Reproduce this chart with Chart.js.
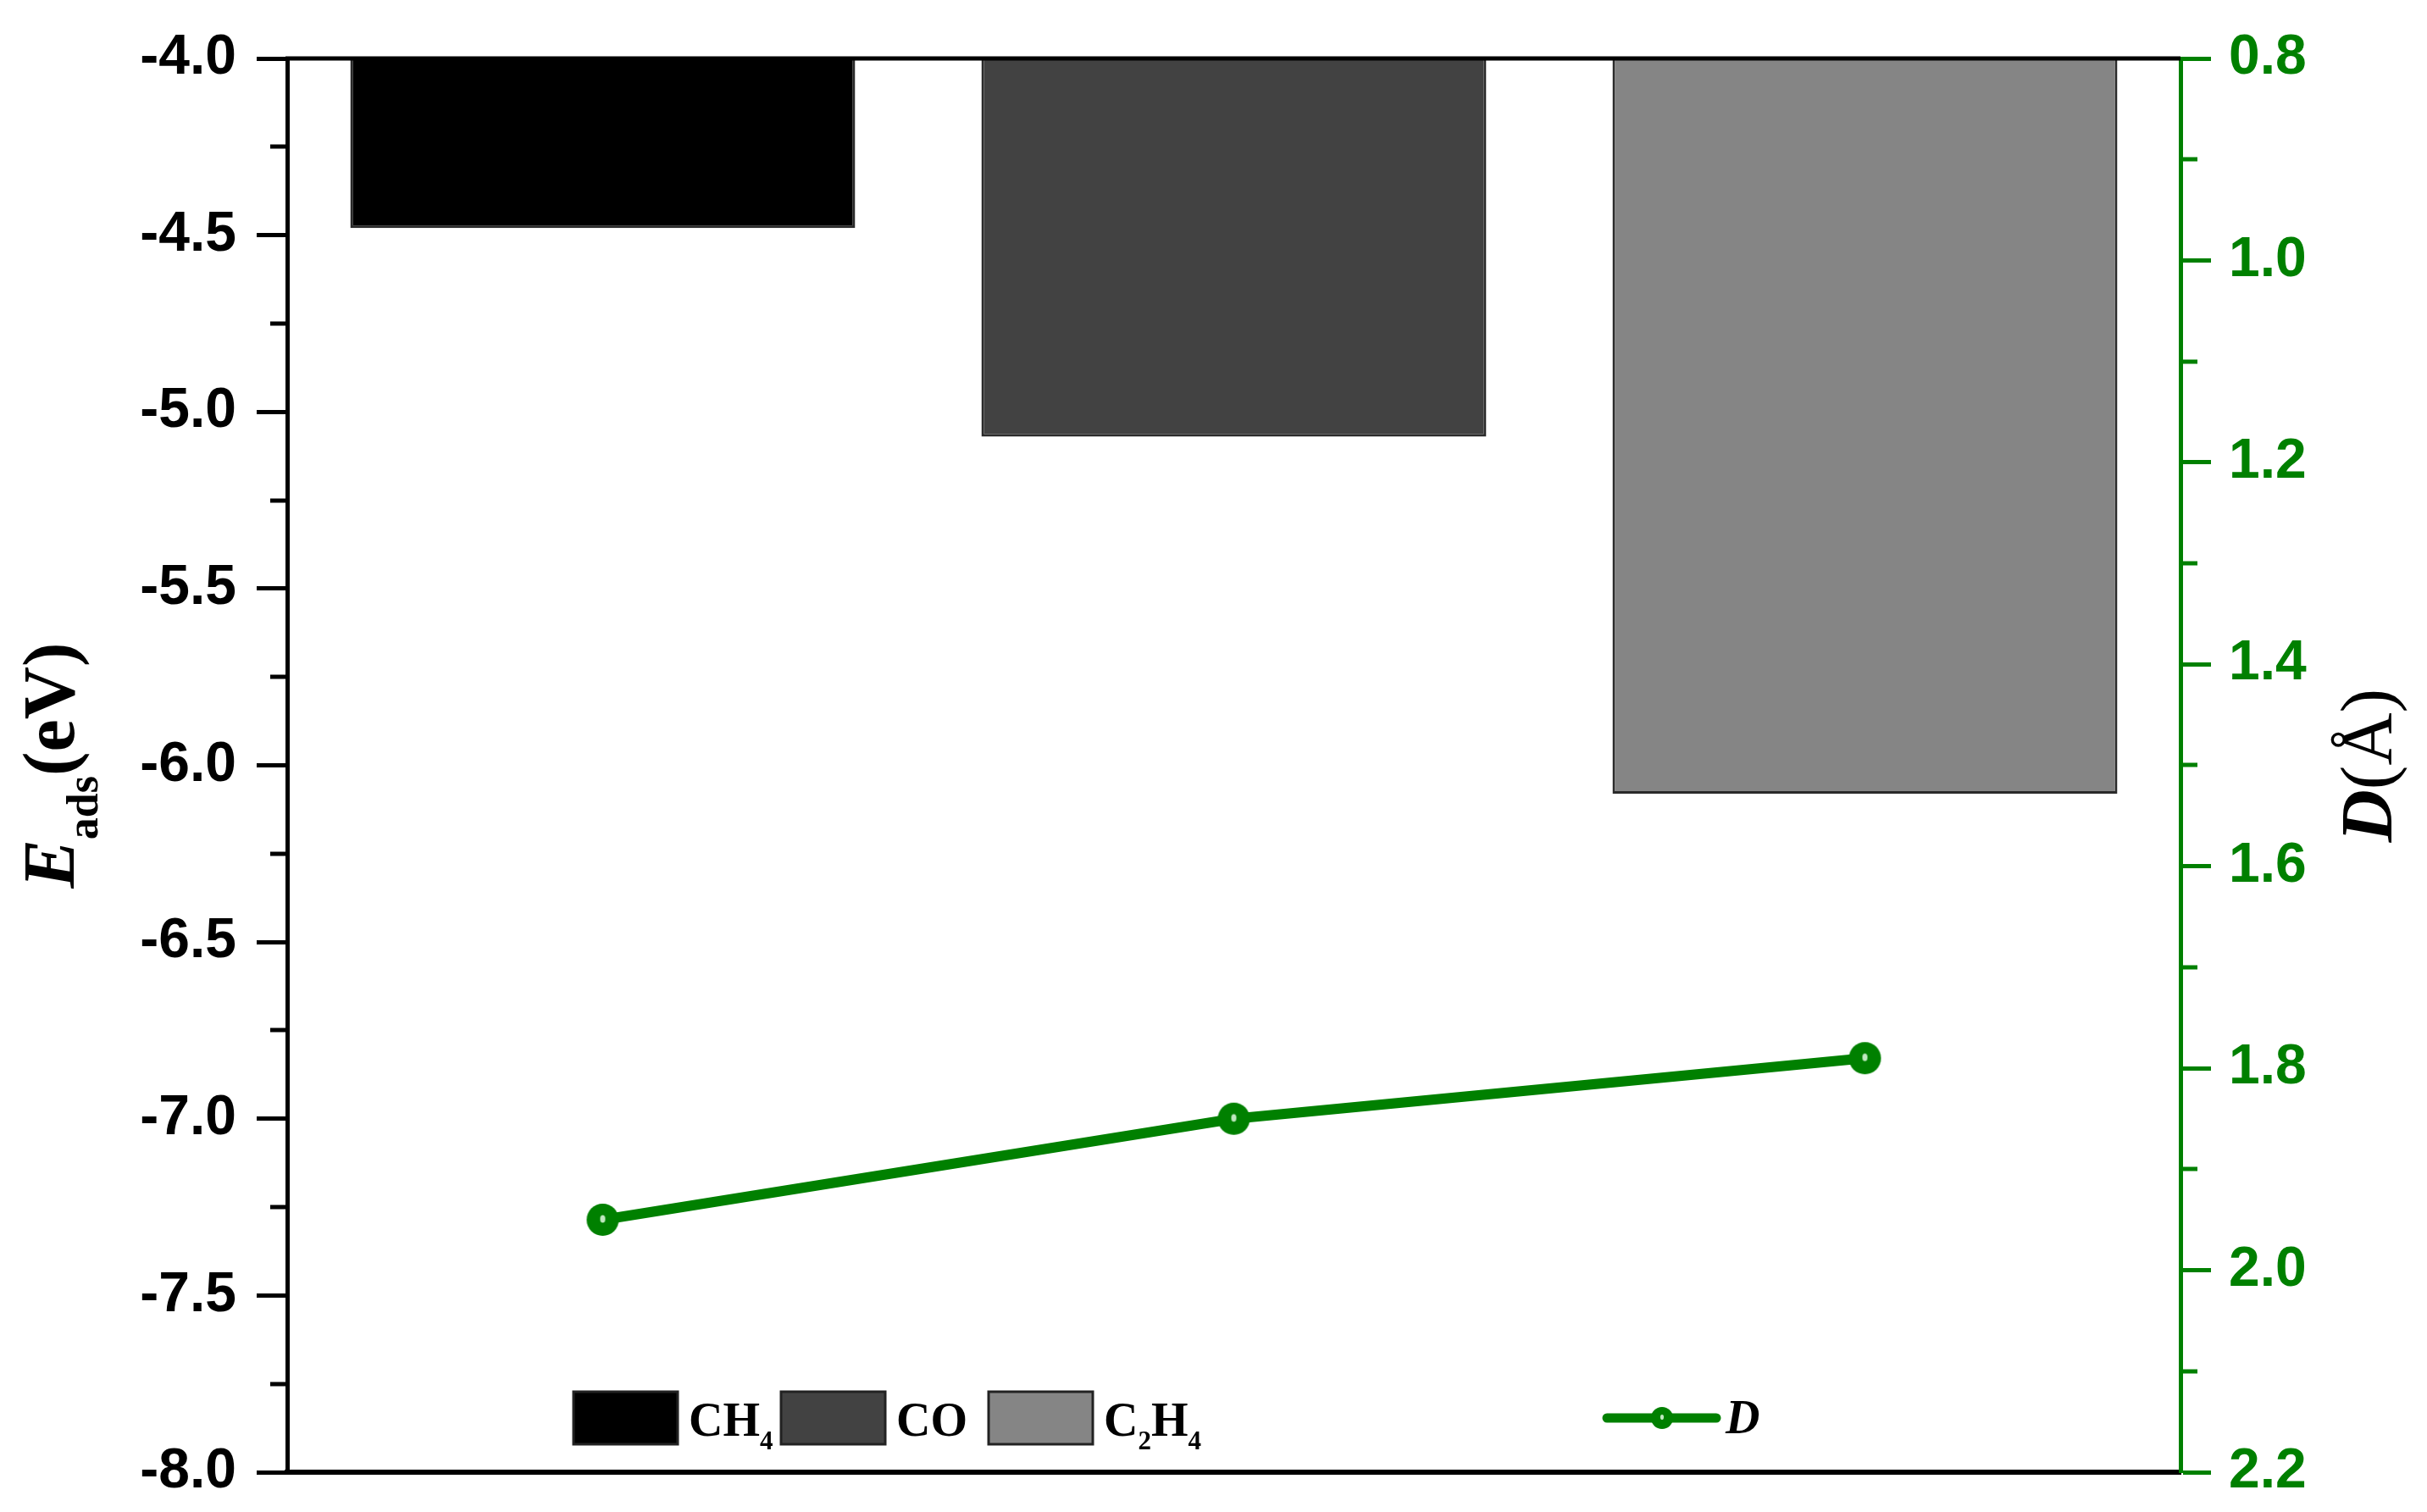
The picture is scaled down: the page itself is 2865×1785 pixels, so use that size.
<!DOCTYPE html>
<html>
<head>
<meta charset="utf-8">
<script src="https://cdn.jsdelivr.net/npm/chart.js@4.4.1/dist/chart.umd.min.js"></script>
<style>
  html, body { margin: 0; padding: 0; background: #fff; }
  #wrap { width: 2865px; height: 1785px; position: relative; }
</style>
</head>
<body>
<div id="wrap"><canvas id="chart"></canvas></div>
<script>
const categories = ['CH4', 'CO', 'C2H4'];
const adsorptionEnergy = [-4.48, -5.07, -6.08];   // E_ads (eV), left axis
const distanceD = [1.95, 1.85, 1.79];             // D (Å), right axis
const barColors = ['#000000', '#424242', '#858585'];
const energyRange = [-8, -4];
const energyStep = 0.5;
const dRange = [0.8, 2.2];
const dStep = 0.2;

const GREEN = '#008000';
const SANS = '"Liberation Sans", Arial, sans-serif';
const SERIF = '"Liberation Serif", "Times New Roman", serif';

// little sphere marker like the Origin one
function makeBall(r) {
  const c = document.createElement('canvas');
  c.width = c.height = r * 2 + 2;
  const g = c.getContext('2d');
  g.fillStyle = GREEN;
  g.beginPath(); g.arc(r + 1, r + 1, r, 0, Math.PI * 2); g.fill();
  g.fillStyle = 'rgba(225,250,225,0.85)';
  g.beginPath(); g.ellipse(r + 1, r, r * 0.16, r * 0.24, 0, 0, Math.PI * 2); g.fill();
  return c;
}
const ball = makeBall(19);
const smallBall = makeBall(13);

// draws "C2H4" with the digits lowered
function drawChem(ctx, text, x, y, size) {
  for (const ch of text) {
    if (/\d/.test(ch)) {
      ctx.font = 'bold ' + Math.round(size * 0.55) + 'px ' + SERIF;
      ctx.fillText(ch, x, y + size * 0.28);
    } else {
      ctx.font = 'bold ' + size + 'px ' + SERIF;
      ctx.fillText(ch, x, y);
    }
    x += ctx.measureText(ch).width;
  }
}

function minorTicks(ctx, scale, step, color, side) {
  const [lo, hi] = [scale.min, scale.max];
  ctx.strokeStyle = color;
  ctx.lineWidth = 5;
  for (let v = lo + step / 2; v < hi; v += step) {
    const py = Math.round(scale.getPixelForValue(v));
    const x0 = side === 'left' ? scale.right : scale.left;
    const x1 = side === 'left' ? x0 - 20 : x0 + 20;
    ctx.beginPath(); ctx.moveTo(x0, py); ctx.lineTo(x1, py); ctx.stroke();
  }
}

const decorations = {
  id: 'decorations',
  afterDraw(chart) {
    const { ctx, chartArea: a, scales } = chart;
    ctx.save();

    // top frame line
    ctx.strokeStyle = '#000';
    ctx.lineWidth = 5;
    ctx.beginPath(); ctx.moveTo(a.left - 2, a.top); ctx.lineTo(a.right, a.top); ctx.stroke();

    minorTicks(ctx, scales.y, energyStep, '#000', 'left');
    minorTicks(ctx, scales.y2, dStep, GREEN, 'right');

    const midY = (a.top + a.bottom) / 2;
    ctx.fillStyle = '#000';
    ctx.textBaseline = 'alphabetic';
    ctx.textAlign = 'left';

    // left title: E_ads(eV)
    const big = 86, sub = 52;
    ctx.font = 'italic bold ' + big + 'px ' + SERIF;
    const wE = ctx.measureText('E').width;
    ctx.font = 'bold ' + sub + 'px ' + SERIF;
    const wSub = ctx.measureText('ads').width;
    ctx.font = 'bold ' + big + 'px ' + SERIF;
    const wUnit = ctx.measureText('(eV)').width;
    let total = wE + wSub + wUnit;
    ctx.save();
    ctx.translate(87, midY + total / 2);
    ctx.rotate(-Math.PI / 2);
    ctx.font = 'italic bold ' + big + 'px ' + SERIF;
    ctx.fillText('E', 0, 0);
    ctx.font = 'bold ' + sub + 'px ' + SERIF;
    ctx.fillText('ads', wE, 28);
    ctx.font = 'bold ' + big + 'px ' + SERIF;
    ctx.fillText('(eV)', wE + wSub, 0);
    ctx.restore();

    // right title: D(Å)
    ctx.font = 'italic bold ' + big + 'px ' + SERIF;
    const wD = ctx.measureText('D').width;
    ctx.font = big + 'px ' + SERIF;
    const wA = ctx.measureText('(Å)').width;
    total = wD + wA;
    ctx.save();
    ctx.translate(2823, midY + total / 2);
    ctx.rotate(-Math.PI / 2);
    ctx.font = 'italic bold ' + big + 'px ' + SERIF;
    ctx.fillText('D', 0, 0);
    ctx.font = big + 'px ' + SERIF;
    ctx.fillText('(Å)', wD, 0);
    ctx.restore();

    // legend for the bars
    const boxW = 123, boxH = 62, legTop = 1643;
    categories.forEach((name, i) => {
      const x = 677 + i * 245;
      ctx.fillStyle = barColors[i];
      ctx.fillRect(x, legTop, boxW, boxH);
      ctx.strokeStyle = '#222';
      ctx.lineWidth = 3;
      ctx.strokeRect(x, legTop, boxW, boxH);
      ctx.fillStyle = '#000';
      drawChem(ctx, name, x + boxW + 13, legTop + 52, 56);
    });

    // legend for the line
    const ly = legTop + boxH / 2;
    ctx.strokeStyle = GREEN;
    ctx.lineWidth = 11;
    ctx.lineCap = 'round';
    ctx.beginPath(); ctx.moveTo(1897, ly); ctx.lineTo(2026, ly); ctx.stroke();
    ctx.drawImage(smallBall, 1962 - smallBall.width / 2, ly - smallBall.height / 2);
    ctx.fillStyle = '#000';
    ctx.font = 'italic bold 56px ' + SERIF;
    ctx.fillText(chart.data.datasets[0].label, 2037, 1692);

    ctx.restore();
  }
};

// keep the tick labels from pushing the plot area in
function noOverflow(s, width) {
  s.width = width;
  s.paddingTop = 0;
  s.paddingBottom = 0;
}

const ctx = document.getElementById('chart').getContext('2d');
new Chart(ctx, {
  type: 'bar',
  data: {
    labels: categories,
    datasets: [
      {
        type: 'line',
        label: 'D',
        data: distanceD,
        yAxisID: 'y2',
        borderColor: GREEN,
        borderWidth: 12,
        pointStyle: ball,
        pointRadius: 19,
        tension: 0,
        fill: false,
        order: 1
      },
      {
        label: 'Eads',
        data: adsorptionEnergy,
        yAxisID: 'y',
        backgroundColor: barColors,
        borderColor: '#2a2a2a',
        borderWidth: 3,
        barPercentage: 0.8,
        categoryPercentage: 1.0,
        order: 2
      }
    ]
  },
  options: {
    responsive: true,
    maintainAspectRatio: false,
    animation: false,
    events: [],
    layout: { padding: { top: 69, left: 0, right: 0, bottom: 0 } },
    plugins: { legend: { display: false }, tooltip: { enabled: false } },
    scales: {
      x: {
        offset: true,
        grid: { display: false },
        ticks: { display: false },
        border: { display: true, color: '#000', width: 6 },
        afterFit: s => { s.height = 47; s.paddingLeft = 0; s.paddingRight = 0; }
      },
      y: {
        position: 'left',
        min: energyRange[0],
        max: energyRange[1],
        ticks: {
          stepSize: energyStep,
          color: '#000',
          padding: 24,
          font: { family: SANS, size: 66, weight: 'bold' },
          callback: v => v.toFixed(1)
        },
        grid: { drawOnChartArea: false, tickLength: 36, tickWidth: 5, tickColor: '#000' },
        border: { display: true, color: '#000', width: 5 },
        afterFit: s => noOverflow(s, 339)
      },
      y2: {
        position: 'right',
        reverse: true,
        min: dRange[0],
        max: dRange[1],
        ticks: {
          stepSize: dStep,
          color: GREEN,
          padding: 21,
          font: { family: SANS, size: 66, weight: 'bold' },
          callback: v => v.toFixed(1)
        },
        grid: { drawOnChartArea: false, tickLength: 36, tickWidth: 5, tickColor: GREEN },
        border: { display: true, color: GREEN, width: 5 },
        afterFit: s => noOverflow(s, 291)
      }
    }
  },
  plugins: [decorations]
});
</script>
</body>
</html>
